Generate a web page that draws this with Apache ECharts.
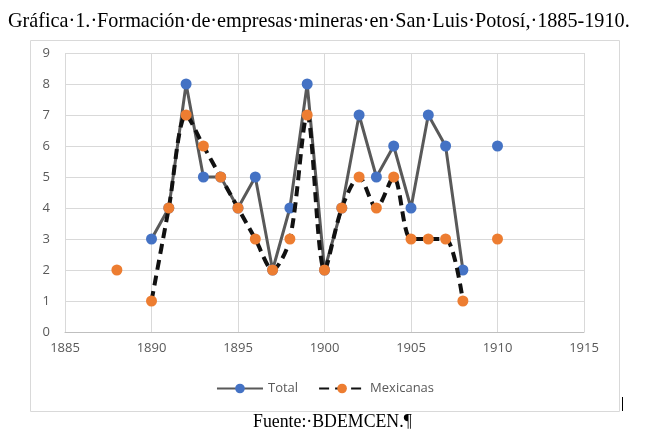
<!DOCTYPE html>
<html><head><meta charset="utf-8">
<script src="https://cdn.jsdelivr.net/npm/echarts@6/dist/echarts.min.js"></script>
<style>html,body{margin:0;padding:0;background:#fff}#c{width:650px;height:442px}</style>
</head><body><div id="c"></div>
<script>
const years = [1888,1889,1890,1891,1892,1893,1894,1895,1896,1897,1898,1899,1900,1901,1902,1903,1904,1905,1906,1907,1908,1909,1910];
const total = [null,null,3,4,8,5,5,4,5,2,4,8,2,4,7,5,6,4,7,6,2,null,6];
const mexicanas = [2,null,1,4,7,6,5,4,3,2,3,7,2,4,5,4,5,3,3,3,1,null,3];
const xTicks = [1885,1890,1895,1900,1905,1910,1915];
const titleText = "Gráfica·1.·Formación·de·empresas·mineras·en·San·Luis·Potosí,·1885-1910.";
const sourceText = "Fuente:·BDEMCEN.¶";

const pairs = arr => years.map((y,i)=>[y, arr[i]]);
const chart = echarts.init(document.getElementById('c'), null, {renderer:'canvas'});
const lab = {color:'#595959', fontFamily:'"Open Sans", "Liberation Sans", sans-serif', fontSize:13};
chart.setOption({
  animation:false,
  title:{text:titleText, left:3, top:7, textStyle:{fontFamily:'"Liberation Serif", serif', fontWeight:'normal', fontSize:20.2, color:'#000'}},
  graphic:[
    {type:'rect', shape:{x:30.5,y:40.5,width:589,height:371}, style:{fill:'none', stroke:'#d9d9d9', lineWidth:1}, z:-1},
    {type:'line', shape:{x1:622.5,y1:397,x2:622.5,y2:411}, style:{stroke:'#000', lineWidth:1}},
    {type:'text', left:253, top:413, style:{text:sourceText, font:'17.8px "Liberation Serif", serif', fill:'#000'}}
  ],
  grid:{left:65, right:66, top:53, bottom:110, containLabel:false},
  legend:{bottom:42, left:'center', itemWidth:46, itemHeight:12, itemGap:20, textStyle:lab,
    data:['Total','Mexicanas']},
  xAxis:{type:'value', min:1885, max:1915, interval:5,
    axisLine:{show:true, lineStyle:{color:'#bfbfbf', width:1}}, axisTick:{show:false},
    axisLabel:Object.assign({margin:10, formatter:v=>xTicks.includes(v)?String(v):''}, lab),
    splitLine:{show:true, lineStyle:{color:'#d9d9d9', width:1}}},
  yAxis:{type:'value', min:0, max:9, interval:1,
    axisLine:{show:false}, axisTick:{show:false},
    axisLabel:Object.assign({margin:15}, lab),
    splitLine:{show:true, lineStyle:{color:'#d9d9d9', width:1}}},
  series:[
    {name:'Total', type:'line', data:pairs(total), connectNulls:false, symbol:'circle', symbolSize:11,
     lineStyle:{color:'#595959', width:3}, itemStyle:{color:'#4472C4'}, z:2},
    {name:'Mexicanas', type:'line', data:pairs(mexicanas), connectNulls:false, symbol:'circle', symbolSize:11, smooth:0.3,
     lineStyle:{color:'#111', width:4, type:[10,6]}, itemStyle:{color:'#ED7D31'}, z:3}
  ]
});
</script></body></html>
